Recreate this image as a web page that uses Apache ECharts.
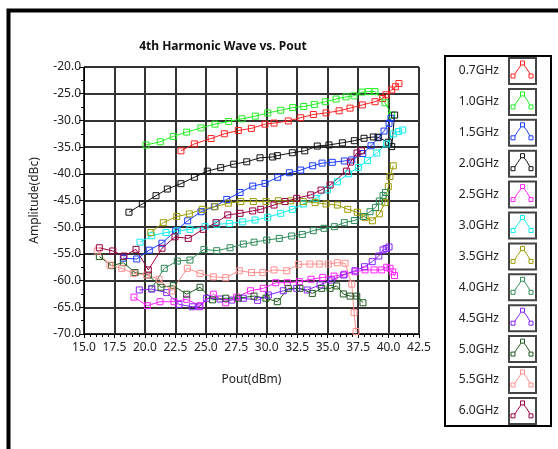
<!DOCTYPE html>
<html>
<head>
<meta charset="utf-8">
<script src="https://cdn.jsdelivr.net/npm/echarts@6/dist/echarts.min.js"></script>
<style>html,body{margin:0;padding:0;background:#fff;}#c{width:558px;height:449px;}</style>
</head>
<body>
<div id="c"></div>
<script>
// ---- data ----
const seriesNames = ['0.7GHz','1.0GHz','1.5GHz','2.0GHz','2.5GHz','3.0GHz','3.5GHz','4.0GHz','4.5GHz','5.0GHz','5.5GHz','6.0GHz'];
const xTicks = [15.0,17.5,20.0,22.5,25.0,27.5,30.0,32.5,35.0,37.5,40.0,42.5];
const yTicks = [-70,-65,-60,-55,-50,-45,-40,-35,-30,-25,-20];

const s07 = [[22.96,-35.7],[24.06,-34.4],[25.43,-33.4],[26.52,-32.5],[27.67,-31.9],[28.74,-31.5],[29.86,-30.7],[30.6,-30.5],[31.77,-30.1],[32.79,-29.5],[33.83,-28.9],[34.87,-28.6],[35.94,-28.2],[36.84,-27.7],[37.85,-27.1],[38.89,-26.5],[39.52,-25.9],[39.79,-25.2],[40.26,-24.3],[40.56,-23.7],[40.85,-23.1]];
const s10 = [[20.09,-34.6],[21.26,-34.0],[22.33,-33.0],[23.43,-32.2],[24.6,-31.4],[25.75,-30.7],[26.88,-30.2],[27.97,-29.7],[29.06,-29.2],[30.08,-28.6],[31.15,-28.1],[32.13,-27.6],[33.04,-27.4],[33.91,-27.0],[34.81,-26.5],[35.69,-26.0],[36.51,-25.6],[37.17,-25.4],[37.82,-24.7],[38.34,-24.6],[38.89,-24.6],[39.71,-26.7],[40.26,-29.0]];
const s15 = [[18.23,-55.8],[19.33,-55.95],[20.36,-54.3],[21.4,-53.0],[22.53,-50.65],[23.51,-48.8],[24.61,-47.1],[25.7,-46.15],[26.72,-44.8],[27.81,-43.5],[28.85,-42.3],[29.86,-41.8],[30.9,-40.65],[31.86,-39.8],[32.79,-39.3],[33.77,-38.5],[34.54,-38.0],[35.38,-37.85],[36.37,-37.6],[36.98,-37.4],[37.88,-36.2],[38.56,-34.75],[39.16,-33.25],[39.63,-32.0],[40.04,-30.55],[40.2,-29.6]];
const s20 = [[18.69,-47.2],[19.79,-45.65],[20.91,-44.1],[21.84,-42.85],[22.96,-41.85],[24.06,-40.65],[25.12,-39.5],[26.22,-38.85],[27.29,-38.2],[28.36,-37.75],[29.45,-37.0],[30.49,-36.85],[30.87,-36.6],[32.1,-36.05],[33.12,-35.7],[34.15,-34.8],[35.11,-34.6],[36.21,-34.2],[37.19,-33.8],[37.99,-33.35],[38.75,-33.1],[39.14,-33.15],[39.98,-34.1],[40.26,-34.9],[40.5,-29.0]];
const s25 = [[19.1,-63.1],[20.2,-64.7],[21.24,-63.95],[22.39,-63.95],[23.43,-63.5],[24.52,-64.7],[25.62,-62.55],[26.63,-64.15],[27.53,-63.1],[28.67,-61.9],[29.72,-61.45],[30.74,-60.4],[31.69,-60.4],[32.68,-60.2],[33.64,-59.75],[34.6,-59.4],[35.53,-59.15],[36.37,-58.8],[37.25,-58.35],[38.07,-58.0],[38.81,-58.0],[39.44,-58.0],[39.85,-57.5],[40.12,-57.7],[40.34,-58.35],[40.49,-59.05]];
const s30 = [[19.6,-52.8],[20.56,-51.6],[21.73,-51.0],[22.66,-50.7],[23.7,-50.4],[24.93,-49.9],[25.9,-49.45],[26.93,-49.3],[28.03,-49.0],[29.04,-48.65],[30.08,-48.15],[31.15,-47.4],[32.1,-46.65],[33.0,-45.65],[34.05,-44.6],[34.98,-43.0],[35.8,-41.5],[36.7,-40.0],[37.52,-38.8],[38.26,-37.5],[39.03,-36.1],[39.84,-34.4],[40.39,-32.55],[40.8,-32.1],[41.16,-31.8]];
const s35 = [[20.48,-51.0],[21.51,-49.15],[22.61,-48.0],[23.65,-47.5],[24.71,-46.65],[25.76,-46.15],[26.85,-45.5],[27.87,-45.2],[28.9,-45.2],[29.94,-45.2],[30.95,-45.05],[31.97,-45.05],[33.0,-45.2],[33.97,-45.4],[34.87,-45.65],[35.8,-45.85],[36.65,-46.65],[37.44,-47.2],[38.07,-48.15],[38.67,-48.8],[39.24,-47.5],[39.71,-45.4],[39.98,-42.4],[40.12,-40.5],[40.39,-38.5]];
const s40 = [[20.56,-61.45],[21.59,-57.7],[22.66,-56.35],[23.7,-56.15],[24.85,-54.15],[25.9,-54.4],[26.99,-53.85],[28.08,-53.15],[28.96,-52.8],[30.0,-52.4],[31.03,-52.1],[32.05,-51.65],[32.92,-51.35],[33.82,-50.65],[34.7,-50.2],[35.55,-49.9],[36.37,-49.15],[37.19,-48.75],[37.93,-48.0],[38.48,-47.1],[38.93,-46.3],[39.24,-45.1],[39.55,-44.05],[39.75,-43.5]];
const s45 = [[19.54,-61.75],[20.56,-61.6],[21.79,-62.25],[22.8,-64.45],[23.89,-64.9],[24.47,-64.9],[25.07,-63.3],[26.17,-63.45],[27.13,-63.65],[28.08,-63.3],[29.25,-63.7],[30.13,-62.7],[31.36,-61.9],[32.46,-61.45],[33.33,-61.75],[34.38,-60.8],[35.34,-59.9],[36.32,-58.95],[37.25,-58.15],[38.03,-57.4],[38.66,-56.45],[39.2,-55.4],[39.55,-54.25],[39.8,-54.0],[40.04,-53.7]];
const s50 = [[16.26,-55.5],[17.27,-57.2],[18.23,-56.65],[19.19,-58.5],[20.28,-58.95],[21.32,-61.25],[22.33,-60.95],[23.43,-62.55],[24.52,-61.25],[25.56,-63.6],[26.63,-63.3],[27.67,-63.3],[28.96,-62.9],[29.94,-63.3],[30.87,-63.95],[31.77,-61.45],[32.73,-61.45],[33.74,-62.4],[34.51,-61.45],[35.2,-61.45],[35.74,-61.0],[36.29,-62.5],[36.84,-62.9],[37.39,-62.9],[37.9,-64.15]];
const s55 = [[16.09,-54.45],[17.13,-57.1],[18.1,-57.7],[19.05,-58.65],[20.15,-58.95],[21.16,-59.75],[22.2,-61.95],[23.48,-57.7],[24.52,-58.65],[25.62,-59.3],[26.63,-59.45],[27.75,-58.15],[28.75,-58.5],[29.67,-58.5],[30.6,-58.0],[31.64,-58.15],[32.6,-56.95],[33.55,-56.9],[34.32,-56.9],[35.06,-56.9],[35.8,-56.65],[36.43,-56.75],[36.98,-60.65],[37.17,-66.0],[37.33,-69.55]];
const s60 = [[16.26,-53.85],[17.36,-54.45],[18.28,-55.4],[19.27,-54.15],[20.28,-58.0],[21.4,-53.95],[22.47,-51.8],[23.56,-52.1],[24.79,-50.4],[25.84,-49.15],[26.8,-47.7],[27.81,-47.4],[28.85,-46.95],[29.51,-46.65],[30.6,-45.85],[31.5,-45.2],[32.46,-44.6],[33.61,-43.95],[34.46,-43.05],[35.2,-42.1],[36.54,-39.5],[36.88,-37.8],[37.41,-36.1],[37.78,-35.7]];

const allData = [s07,s10,s15,s20,s25,s30,s35,s40,s45,s50,s55,s60];
const colors = ['#ff2222','#22ee22','#1a3cff','#111111','#ff22ff','#11eeee','#9c9c00','#2e8b57','#8822ff','#1f5a1f','#ff8f8f','#990044'];

// ---- chart ----
const FONT = 'Noto Sans';
const chart = echarts.init(document.getElementById('c'), null, {renderer:'canvas'});

const series = allData.map((d,i)=>({
  name: seriesNames[i], type:'line', data:d,
  symbol:'rect', symbolSize:6,
  lineStyle:{color:colors[i], width:1},
  itemStyle:{color:'rgba(255,255,255,0)', borderColor:colors[i], borderWidth:1},
  emphasis:{disabled:true}, z:3
}));

// legend as graphic
const legendChildren = [];
legendChildren.push({type:'rect', shape:{x:445,y:56,width:106,height:370}, style:{fill:'#fff', stroke:'#000', lineWidth:2}});
seriesNames.forEach((n,i)=>{
  const cy = 71 + i*30.9;
  legendChildren.push({type:'text', style:{text:n, x:499, y:cy, align:'right', verticalAlign:'middle', font:'12px "'+FONT+'"', fill:'#222'}});
  const bx = 509, by = cy-13;
  legendChildren.push({type:'rect', shape:{x:bx,y:by,width:27,height:26}, style:{fill:'#fff', stroke:'#444', lineWidth:2}});
  legendChildren.push({type:'polyline', shape:{points:[[bx+4,by+19],[bx+8.5,by+12],[bx+13.5,by+5],[bx+18,by+11],[bx+22,by+18]]}, style:{fill:null, stroke:colors[i], lineWidth:1}});
  [[bx+4,by+18],[bx+13.5,by+5],[bx+22,by+18]].forEach(p=>{
    legendChildren.push({type:'rect', shape:{x:p[0]-2,y:p[1]-2,width:4,height:4}, style:{fill:'#fff', stroke:colors[i], lineWidth:1}});
  });
});

chart.setOption({
  animation:false,
  backgroundColor:'#fff',
  textStyle:{fontFamily:FONT},
  title:{text:'4th Harmonic Wave vs. Pout', left:218, top:36, textAlign:'center',
    textStyle:{fontFamily:FONT, fontSize:12, fontWeight:'bold', color:'#111'}},
  grid:{left:84, right:139, top:67, bottom:115, containLabel:false, show:true, borderColor:'#000', borderWidth:1, backgroundColor:'#fff'},
  xAxis:{type:'value', min:15, max:42.5, interval:2.5,
    name:'Pout(dBm)', nameLocation:'middle', nameGap:40,
    nameTextStyle:{fontFamily:FONT, fontSize:12, color:'#222'},
    axisLine:{show:true, onZero:false, lineStyle:{color:'#000', width:1}},
    axisTick:{show:true, length:4, lineStyle:{color:'#000'}},
    minorTick:{show:true, splitNumber:5, length:3, lineStyle:{color:'#000'}},
    splitLine:{show:true, lineStyle:{color:'#333', width:2}},
    axisLabel:{formatter:v=>v.toFixed(1), fontFamily:FONT, fontSize:12, color:'#222', margin:8, showMinLabel:true, showMaxLabel:true}
  },
  yAxis:{type:'value', min:-70, max:-20, interval:5,
    name:'Amplitude(dBc)', nameLocation:'middle', nameGap:43,
    nameTextStyle:{fontFamily:FONT, fontSize:12, color:'#222'},
    axisLine:{show:true, onZero:false, lineStyle:{color:'#000', width:1}},
    axisTick:{show:true, length:5, lineStyle:{color:'#000'}},
    minorTick:{show:true, splitNumber:2, length:3, lineStyle:{color:'#000'}},
    splitLine:{show:true, lineStyle:{color:'#333', width:2}},
    axisLabel:{formatter:v=>v.toFixed(1), fontFamily:FONT, fontSize:12, color:'#222', margin:3}
  },
  series: series,
  graphic:[
    {type:'polyline', shape:{points:[[8.5,449],[8.5,10.5],[558,10.5]]}, style:{fill:null, stroke:'#000', lineWidth:4}, silent:true},
    {type:'group', children:legendChildren, silent:true}
  ]
});
</script>
</body>
</html>
